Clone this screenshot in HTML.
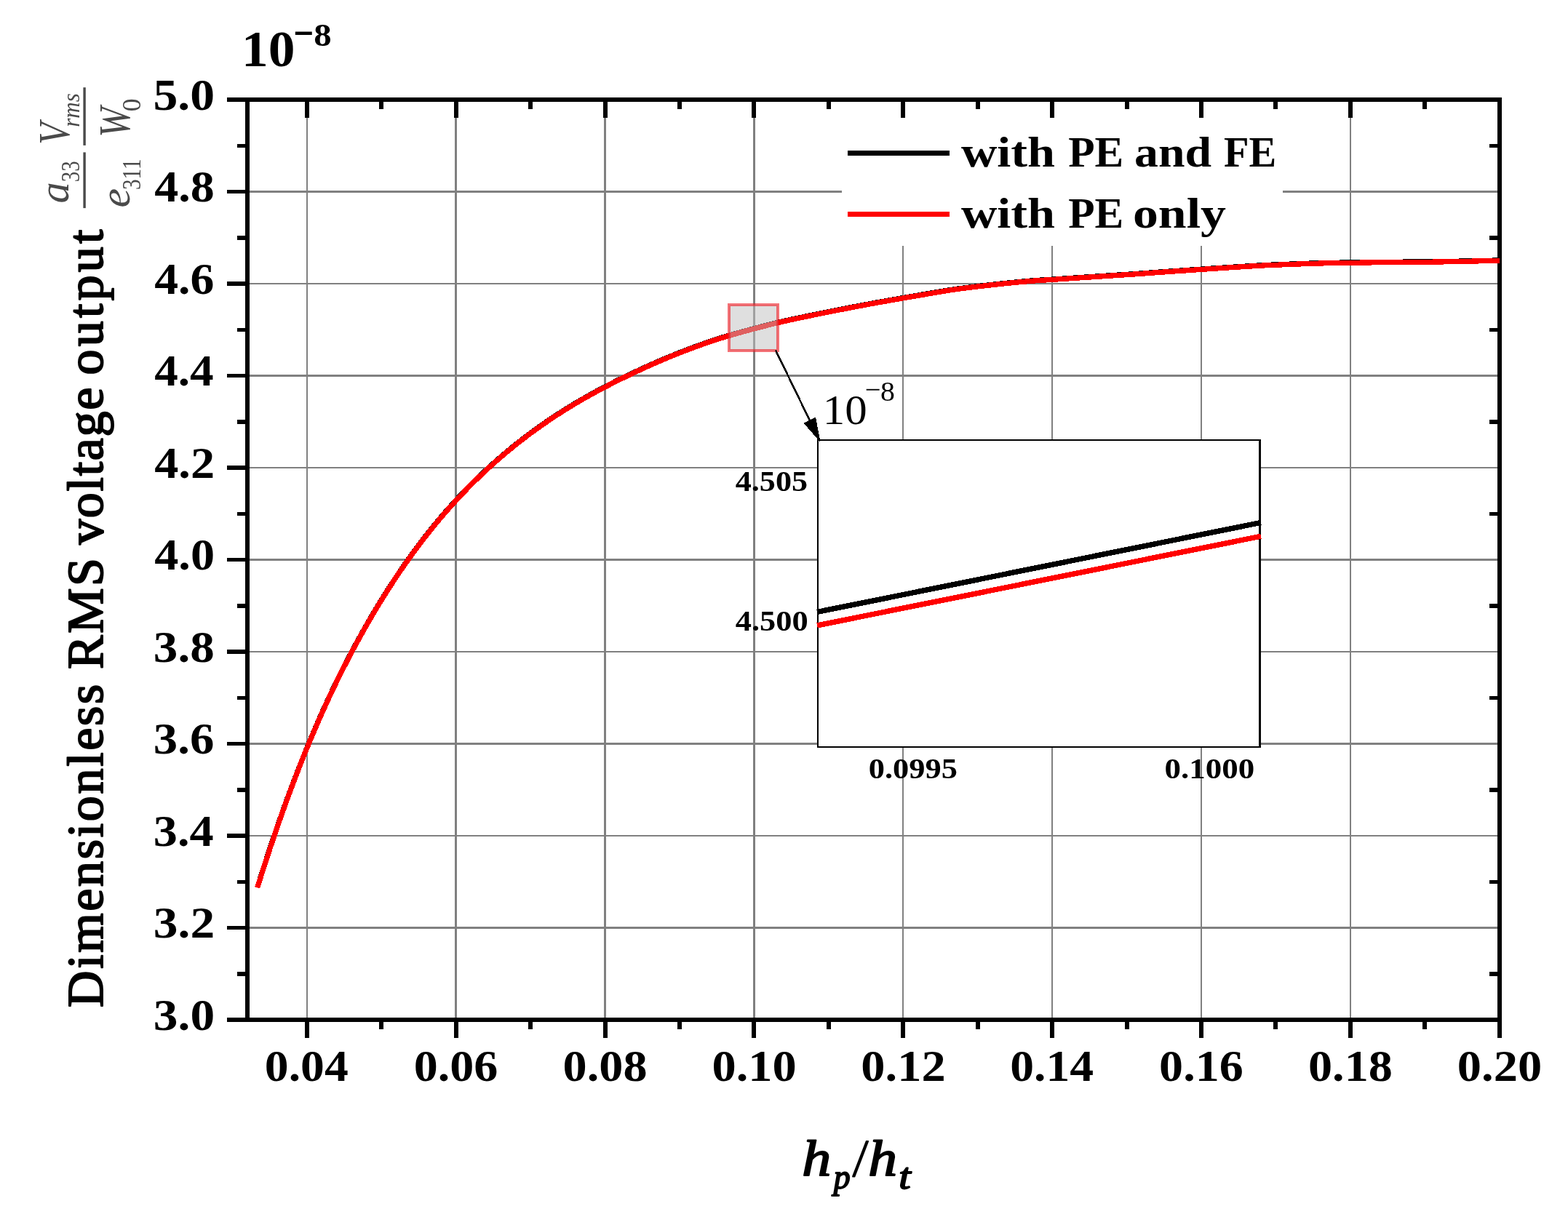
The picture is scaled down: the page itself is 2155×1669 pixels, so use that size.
<!DOCTYPE html>
<html lang="en"><head><meta charset="utf-8"><title>Dimensionless RMS voltage output</title>
<style>html,body{margin:0;padding:0;background:#fff;}body{width:2155px;height:1669px;overflow:hidden;}svg{display:block;font-family:"Liberation Serif",serif;}</style>
</head><body>
<svg width="2155" height="1669" viewBox="0 0 2155 1669">
<rect width="2155" height="1669" fill="#fff"/>
<g shape-rendering="crispEdges">
<path d="M421,137h2V1402h-2zM625,137h3V1402h-3zM830,137h3V1402h-3zM1035,137h3V1402h-3zM1240,137h2V1402h-2zM1445,137h2V1402h-2zM1650,137h2V1402h-2zM1855,137h2V1402h-2zM340,262H2061v3H340zM340,389H2061v2H340zM340,515H2061v3H340zM340,642H2061v2H340zM340,768H2061v3H340zM340,895H2061v2H340zM340,1021H2061v3H340zM340,1148H2061v2H340zM340,1274H2061v3H340z" fill="#808080"/>
<rect x="1157" y="160" width="606" height="178" fill="#fff"/>
<rect x="340" y="137" width="1721" height="1265" fill="none" stroke="#000" stroke-width="6"/>
<path d="M422.00,1402 v25 M422.00,137 v25 M626.88,1402 v25 M626.88,137 v25 M831.75,1402 v25 M831.75,137 v25 M1036.62,1402 v25 M1036.62,137 v25 M1241.50,1402 v25 M1241.50,137 v25 M1446.38,1402 v25 M1446.38,137 v25 M1651.25,1402 v25 M1651.25,137 v25 M1856.12,1402 v25 M1856.12,137 v25 M2061.00,1402 v25 M524.44,1402 v13 M524.44,137 v13 M729.31,1402 v13 M729.31,137 v13 M934.19,1402 v13 M934.19,137 v13 M1139.06,1402 v13 M1139.06,137 v13 M1343.94,1402 v13 M1343.94,137 v13 M1548.81,1402 v13 M1548.81,137 v13 M1753.69,1402 v13 M1753.69,137 v13 M1958.56,1402 v13 M1958.56,137 v13" transform="translate(-0.2,0)" stroke="#000" stroke-width="6" fill="none"/>
<path d="M340,137.00 h-28 M340,263.50 h-28 M340,390.00 h-28 M340,516.50 h-28 M340,643.00 h-28 M340,769.50 h-28 M340,896.00 h-28 M340,1022.50 h-28 M340,1149.00 h-28 M340,1275.50 h-28 M340,1402.00 h-28 M340,200.25 h-14.2 M2061,200.25 h-14.2 M340,326.75 h-14.2 M2061,326.75 h-14.2 M340,453.25 h-14.2 M2061,453.25 h-14.2 M340,579.75 h-14.2 M2061,579.75 h-14.2 M340,706.25 h-14.2 M2061,706.25 h-14.2 M340,832.75 h-14.2 M2061,832.75 h-14.2 M340,959.25 h-14.2 M2061,959.25 h-14.2 M340,1085.75 h-14.2 M2061,1085.75 h-14.2 M340,1212.25 h-14.2 M2061,1212.25 h-14.2 M340,1338.75 h-14.2 M2061,1338.75 h-14.2" transform="translate(0,0.15)" stroke="#000" stroke-width="5.5" fill="none"/>
<path d="M353.7,1220.35 L359.7,1201.36 L365.7,1182.76 L371.7,1164.57 L377.7,1146.79 L383.7,1129.42 L389.7,1112.46 L395.7,1095.92 L401.7,1079.78 L407.7,1064.04 L413.7,1048.70 L419.7,1033.73 L425.7,1019.15 L431.7,1004.93 L437.7,991.08 L443.7,977.58 L449.7,964.43 L455.7,951.61 L461.7,939.11 L467.7,926.93 L473.7,915.04 L479.7,903.43 L485.7,892.10 L491.7,881.02 L497.7,870.20 L503.7,859.61 L509.7,849.25 L515.7,839.11 L521.7,829.19 L527.7,819.48 L533.7,809.99 L539.7,800.71 L545.7,791.64 L551.7,782.77 L557.7,774.12 L563.7,765.67 L569.7,757.42 L575.7,749.36 L581.7,741.50 L587.7,733.82 L593.7,726.32 L599.7,718.99 L605.7,711.83 L611.7,704.85 L617.7,698.02 L623.7,691.35 L629.7,684.83 L635.7,678.46 L641.7,672.23 L647.7,666.15 L653.7,660.20 L659.7,654.39 L665.7,648.71 L671.7,643.15 L677.7,637.72 L683.7,632.40 L689.7,627.21 L695.7,622.13 L700.0,618.55 L710.0,610.46 L720.0,602.66 L730.0,595.13 L740.0,587.87 L750.0,580.87 L760.0,574.11 L770.0,567.59 L780.0,561.29 L790.0,555.21 L800.0,549.34 L810.0,543.67 L820.0,538.18 L830.0,532.86 L840.0,527.70 L850.0,522.67 L860.0,517.78 L870.0,513.00 L880.0,508.33 L890.0,503.77 L900.0,499.32 L910.0,495.01 L920.0,490.82 L930.0,486.76 L940.0,482.83 L950.0,479.02 L960.0,475.34 L970.0,471.79 L980.0,468.35 L990.0,465.11 L1000.0,462.10 L1010.0,459.21 L1020.0,456.41 L1030.0,453.70 L1040.0,451.05 L1052.0,447.93 L1064.0,444.91 L1076.0,442.05 L1088.0,439.39 L1100.0,436.91 L1112.0,434.36 L1124.0,431.90 L1136.0,429.54 L1148.0,427.13 L1160.0,424.74 L1172.0,422.44 L1184.0,420.18 L1196.0,417.92 L1208.0,415.74 L1220.0,413.60 L1232.0,411.49 L1244.0,409.40 L1256.0,407.34 L1268.0,405.29 L1280.0,403.25 L1292.0,401.25 L1304.0,399.23 L1316.0,397.46 L1328.0,395.88 L1340.0,394.38 L1352.0,392.96 L1364.0,391.61 L1376.0,390.34 L1388.0,389.12 L1400.0,387.94 L1412.0,386.79 L1424.0,385.80 L1436.0,385.06 L1448.0,384.29 L1460.0,383.51 L1472.0,382.72 L1484.0,381.93 L1496.0,381.14 L1508.0,380.34 L1520.0,379.54 L1532.0,378.74 L1544.0,377.94 L1556.0,377.21 L1568.0,376.33 L1580.0,375.41 L1592.0,374.54 L1604.0,373.69 L1616.0,372.84 L1628.0,372.01 L1640.0,371.18 L1652.0,370.36 L1664.0,369.55 L1676.0,368.75 L1688.0,367.96 L1700.0,367.19 L1712.0,366.43 L1724.0,365.69 L1736.0,364.99 L1748.0,364.46 L1760.0,363.99 L1772.0,363.50 L1784.0,363.03 L1796.0,362.60 L1808.0,362.20 L1820.0,361.90 L1832.0,361.67 L1844.0,361.46 L1856.0,361.29 L1868.0,361.13 L1880.0,360.97 L1892.0,360.83 L1904.0,360.71 L1916.0,360.61 L1928.0,360.50 L1940.0,360.40 L1952.0,360.29 L1964.0,360.17 L1976.0,360.03 L1988.0,359.85 L2000.0,359.62 L2012.0,359.35 L2024.0,359.08 L2036.0,358.82 L2048.0,358.57 L2060.0,358.32 L2061.0,358.30" transform="translate(0,-0.4)" stroke="#000" stroke-width="7.2" fill="none" stroke-linejoin="round"/>
<path d="M353.7,1220.35 L359.7,1201.36 L365.7,1182.76 L371.7,1164.57 L377.7,1146.79 L383.7,1129.42 L389.7,1112.46 L395.7,1095.92 L401.7,1079.78 L407.7,1064.04 L413.7,1048.70 L419.7,1033.73 L425.7,1019.15 L431.7,1004.93 L437.7,991.08 L443.7,977.58 L449.7,964.43 L455.7,951.61 L461.7,939.11 L467.7,926.93 L473.7,915.04 L479.7,903.43 L485.7,892.10 L491.7,881.02 L497.7,870.20 L503.7,859.61 L509.7,849.25 L515.7,839.11 L521.7,829.19 L527.7,819.48 L533.7,809.99 L539.7,800.71 L545.7,791.64 L551.7,782.77 L557.7,774.12 L563.7,765.67 L569.7,757.42 L575.7,749.36 L581.7,741.50 L587.7,733.82 L593.7,726.32 L599.7,718.99 L605.7,711.83 L611.7,704.85 L617.7,698.02 L623.7,691.35 L629.7,684.83 L635.7,678.46 L641.7,672.23 L647.7,666.15 L653.7,660.20 L659.7,654.39 L665.7,648.71 L671.7,643.15 L677.7,637.72 L683.7,632.40 L689.7,627.21 L695.7,622.13 L700.0,618.55 L710.0,610.46 L720.0,602.66 L730.0,595.13 L740.0,587.87 L750.0,580.87 L760.0,574.11 L770.0,567.59 L780.0,561.29 L790.0,555.21 L800.0,549.34 L810.0,543.67 L820.0,538.18 L830.0,532.86 L840.0,527.70 L850.0,522.67 L860.0,517.78 L870.0,513.00 L880.0,508.33 L890.0,503.77 L900.0,499.32 L910.0,495.01 L920.0,490.82 L930.0,486.76 L940.0,482.83 L950.0,479.02 L960.0,475.34 L970.0,471.79 L980.0,468.35 L990.0,465.11 L1000.0,462.10 L1010.0,459.21 L1020.0,456.41 L1030.0,453.70 L1040.0,451.05 L1052.0,447.93 L1064.0,444.91 L1076.0,442.05 L1088.0,439.39 L1100.0,436.91 L1112.0,434.36 L1124.0,431.90 L1136.0,429.54 L1148.0,427.13 L1160.0,424.74 L1172.0,422.44 L1184.0,420.18 L1196.0,417.92 L1208.0,415.74 L1220.0,413.60 L1232.0,411.49 L1244.0,409.40 L1256.0,407.34 L1268.0,405.29 L1280.0,403.25 L1292.0,401.25 L1304.0,399.23 L1316.0,397.46 L1328.0,395.88 L1340.0,394.38 L1352.0,392.96 L1364.0,391.61 L1376.0,390.34 L1388.0,389.12 L1400.0,387.94 L1412.0,386.79 L1424.0,385.80 L1436.0,385.06 L1448.0,384.29 L1460.0,383.51 L1472.0,382.72 L1484.0,381.93 L1496.0,381.14 L1508.0,380.34 L1520.0,379.54 L1532.0,378.74 L1544.0,377.94 L1556.0,377.21 L1568.0,376.33 L1580.0,375.41 L1592.0,374.54 L1604.0,373.69 L1616.0,372.84 L1628.0,372.01 L1640.0,371.18 L1652.0,370.36 L1664.0,369.55 L1676.0,368.75 L1688.0,367.96 L1700.0,367.19 L1712.0,366.43 L1724.0,365.69 L1736.0,364.99 L1748.0,364.46 L1760.0,363.99 L1772.0,363.50 L1784.0,363.03 L1796.0,362.60 L1808.0,362.20 L1820.0,361.90 L1832.0,361.67 L1844.0,361.46 L1856.0,361.29 L1868.0,361.13 L1880.0,360.97 L1892.0,360.83 L1904.0,360.71 L1916.0,360.61 L1928.0,360.50 L1940.0,360.40 L1952.0,360.29 L1964.0,360.17 L1976.0,360.03 L1988.0,359.85 L2000.0,359.62 L2012.0,359.35 L2024.0,359.08 L2036.0,358.82 L2048.0,358.57 L2060.0,358.32 L2061.0,358.30" stroke="#f00" stroke-width="7.2" fill="none" stroke-linejoin="round"/>
<rect x="1002" y="419" width="67" height="63" fill="rgba(192,192,192,0.5)" stroke="rgba(237,28,36,0.62)" stroke-width="4"/>
<rect x="1123" y="604" width="610" height="424" fill="#000"/>
<rect x="1125" y="606" width="605" height="420" fill="#fff"/>
<line x1="1123" y1="841.4" x2="1733" y2="718.4" stroke="#000" stroke-width="7.4"/>
<line x1="1123" y1="859.9" x2="1733" y2="737.2" stroke="#f00" stroke-width="7.4"/>
<line x1="1066" y1="481.5" x2="1114.05" y2="580.32" stroke="#000" stroke-width="2.6"/>
<polygon points="1127.6,608.2 1104.46,581.65 1121.01,573.60" fill="#000"/>
<line x1="1165.2" y1="210.65" x2="1305" y2="210.65" stroke="#000" stroke-width="7.5"/>
<line x1="1165.2" y1="294.6" x2="1305" y2="294.6" stroke="#f00" stroke-width="7.5"/>
</g>
<g id="legend-text" fill="#000">
<text><tspan x="1320.90" y="228.80" font-size="58.80" textLength="129.07" lengthAdjust="spacingAndGlyphs" font-weight="bold">with</tspan> <tspan x="1468.21" y="228.80" font-size="58.80" textLength="76.04" lengthAdjust="spacingAndGlyphs" font-weight="bold">PE</tspan> <tspan x="1559.03" y="228.80" font-size="58.80" textLength="105.98" lengthAdjust="spacingAndGlyphs" font-weight="bold">and</tspan> <tspan x="1681.95" y="228.80" font-size="58.80" textLength="72.14" lengthAdjust="spacingAndGlyphs" font-weight="bold">FE</tspan></text>
<text><tspan x="1320.90" y="312.80" font-size="58.80" textLength="129.07" lengthAdjust="spacingAndGlyphs" font-weight="bold">with</tspan> <tspan x="1468.21" y="312.80" font-size="58.80" textLength="76.04" lengthAdjust="spacingAndGlyphs" font-weight="bold">PE</tspan> <tspan x="1557.01" y="312.80" font-size="58.80" textLength="127.92" lengthAdjust="spacingAndGlyphs" font-weight="bold">only</tspan></text>
</g>
<g id="ytick-labels" fill="#000">
<text x="210.49" y="150.70" font-size="61.30" textLength="84.62" lengthAdjust="spacingAndGlyphs" font-weight="bold">5.0</text>
<text x="212.21" y="277.20" font-size="61.30" textLength="82.50" lengthAdjust="spacingAndGlyphs" font-weight="bold">4.8</text>
<text x="212.21" y="403.70" font-size="61.30" textLength="82.16" lengthAdjust="spacingAndGlyphs" font-weight="bold">4.6</text>
<text x="212.22" y="530.20" font-size="61.30" textLength="81.48" lengthAdjust="spacingAndGlyphs" font-weight="bold">4.4</text>
<text x="212.21" y="656.70" font-size="61.30" textLength="82.85" lengthAdjust="spacingAndGlyphs" font-weight="bold">4.2</text>
<text x="212.21" y="783.20" font-size="61.30" textLength="82.85" lengthAdjust="spacingAndGlyphs" font-weight="bold">4.0</text>
<text x="210.85" y="909.70" font-size="61.30" textLength="83.90" lengthAdjust="spacingAndGlyphs" font-weight="bold">3.8</text>
<text x="210.86" y="1036.20" font-size="61.30" textLength="83.54" lengthAdjust="spacingAndGlyphs" font-weight="bold">3.6</text>
<text x="210.88" y="1162.70" font-size="61.30" textLength="82.85" lengthAdjust="spacingAndGlyphs" font-weight="bold">3.4</text>
<text x="210.84" y="1289.20" font-size="61.30" textLength="84.26" lengthAdjust="spacingAndGlyphs" font-weight="bold">3.2</text>
<text x="210.84" y="1415.70" font-size="61.30" textLength="84.26" lengthAdjust="spacingAndGlyphs" font-weight="bold">3.0</text>
</g>
<g id="xtick-labels" fill="#000">
<text x="363.87" y="1486.00" font-size="61.30" textLength="114.94" lengthAdjust="spacingAndGlyphs" font-weight="bold">0.04</text>
<text x="568.73" y="1486.00" font-size="61.30" textLength="115.62" lengthAdjust="spacingAndGlyphs" font-weight="bold">0.06</text>
<text x="773.60" y="1486.00" font-size="61.30" textLength="115.97" lengthAdjust="spacingAndGlyphs" font-weight="bold">0.08</text>
<text x="978.47" y="1486.00" font-size="61.30" textLength="116.32" lengthAdjust="spacingAndGlyphs" font-weight="bold">0.10</text>
<text x="1183.34" y="1486.00" font-size="61.30" textLength="116.32" lengthAdjust="spacingAndGlyphs" font-weight="bold">0.12</text>
<text x="1388.25" y="1486.00" font-size="61.30" textLength="114.94" lengthAdjust="spacingAndGlyphs" font-weight="bold">0.14</text>
<text x="1593.11" y="1486.00" font-size="61.30" textLength="115.62" lengthAdjust="spacingAndGlyphs" font-weight="bold">0.16</text>
<text x="1797.97" y="1486.00" font-size="61.30" textLength="115.97" lengthAdjust="spacingAndGlyphs" font-weight="bold">0.18</text>
<text x="2002.84" y="1486.00" font-size="61.30" textLength="116.32" lengthAdjust="spacingAndGlyphs" font-weight="bold">0.20</text>
</g>
<text id="title" fill="#000"><tspan x="331.93" y="90.90" font-size="69.30" textLength="73.41" lengthAdjust="spacingAndGlyphs" font-weight="bold">10</tspan><tspan x="403.33" y="66.70" font-size="64.00" textLength="28.13" lengthAdjust="spacingAndGlyphs" font-weight="bold">−</tspan><tspan x="431.29" y="62.90" font-size="44.90" textLength="24.42" lengthAdjust="spacingAndGlyphs" font-weight="bold">8</tspan></text>
<text id="ititle" fill="#000"><tspan x="1130.82" y="583.30" font-size="56.20" textLength="60.91" lengthAdjust="spacingAndGlyphs">10</tspan><tspan x="1188.86" y="547.50" font-size="37.60" textLength="21.83" lengthAdjust="spacingAndGlyphs">−</tspan><tspan x="1210.01" y="551.10" font-size="37.60" textLength="19.88" lengthAdjust="spacingAndGlyphs">8</tspan></text>
<g id="inset-labels" fill="#000">
<text x="1010.74" y="675.10" font-size="40.80" textLength="99.41" lengthAdjust="spacingAndGlyphs" font-weight="bold">4.505</text>
<text x="1010.73" y="867.00" font-size="40.80" textLength="100.05" lengthAdjust="spacingAndGlyphs" font-weight="bold">4.500</text>
<text x="1193.82" y="1070.20" font-size="40.80" textLength="122.13" lengthAdjust="spacingAndGlyphs" font-weight="bold">0.0995</text>
<text x="1600.50" y="1070.20" font-size="40.80" textLength="123.70" lengthAdjust="spacingAndGlyphs" font-weight="bold">0.1000</text>
</g>
<text id="xlabel" fill="#000" stroke="#000" stroke-width="1.9" stroke-linejoin="round"><tspan x="1102.20" y="1616.05" font-size="69.00" textLength="40.00" lengthAdjust="spacingAndGlyphs" font-style="italic">h</tspan><tspan x="1145.64" y="1633.85" font-size="48.00" textLength="22.82" lengthAdjust="spacingAndGlyphs" font-style="italic">p</tspan><tspan x="1174.35" y="1616.35" font-size="71.00" textLength="14.98" lengthAdjust="spacingAndGlyphs" font-style="italic">/</tspan><tspan x="1193.31" y="1616.05" font-size="69.00" textLength="39.78" lengthAdjust="spacingAndGlyphs" font-style="italic">h</tspan><tspan x="1235.27" y="1633.55" font-size="50.00" textLength="16.32" lengthAdjust="spacingAndGlyphs" font-style="italic">t</tspan></text>
<text id="ylabel" transform="rotate(-90)" fill="#000" stroke="#000" stroke-width="2.0" stroke-linejoin="round"><tspan x="-1385.10" y="141.20" font-size="70.00" textLength="444.26" lengthAdjust="spacing">Dimensionless</tspan> <tspan x="-919.90" y="141.20" font-size="70.00" textLength="152.76" lengthAdjust="spacing">RMS</tspan> <tspan x="-748.80" y="141.20" font-size="70.00" textLength="216.04" lengthAdjust="spacing">voltage</tspan> <tspan x="-515.40" y="141.20" font-size="70.00" textLength="199.90" lengthAdjust="spacing">output</tspan></text>
<defs><filter id="fb" x="-20%" y="-20%" width="140%" height="140%"><feGaussianBlur stdDeviation="0.6"/></filter></defs>
<g id="formula" filter="url(#fb)" opacity="0.88">
<text transform="rotate(-90)" fill="#303030"><tspan x="-279.45" y="93.90" font-size="59.00" textLength="29.19" lengthAdjust="spacingAndGlyphs" font-style="italic">a</tspan><tspan x="-250.30" y="108.90" font-size="35.00" textLength="28.85" lengthAdjust="spacingAndGlyphs">33</tspan><tspan x="-285.49" y="177.80" font-size="59.00" textLength="26.52" lengthAdjust="spacingAndGlyphs" font-style="italic">e</tspan><tspan x="-261.11" y="192.80" font-size="35.00" textLength="42.60" lengthAdjust="spacingAndGlyphs">311</tspan><tspan x="-198.77" y="95.10" font-size="62.00" textLength="30.22" lengthAdjust="spacingAndGlyphs" font-style="italic">V</tspan><tspan x="-174.74" y="108.90" font-size="33.00" textLength="46.49" lengthAdjust="spacingAndGlyphs" font-style="italic">rms</tspan><tspan x="-188.73" y="177.80" font-size="62.00" textLength="41.41" lengthAdjust="spacingAndGlyphs" font-style="italic">W</tspan><tspan x="-153.32" y="192.80" font-size="35.00" textLength="17.74" lengthAdjust="spacingAndGlyphs">0</tspan></text>
<line x1="116.1" y1="286.1" x2="116.1" y2="209.4" stroke="#303030" stroke-width="3.4"/>
<line x1="116.1" y1="199.9" x2="116.1" y2="120.2" stroke="#303030" stroke-width="3.4"/>
</g>
</svg>
</body></html>
